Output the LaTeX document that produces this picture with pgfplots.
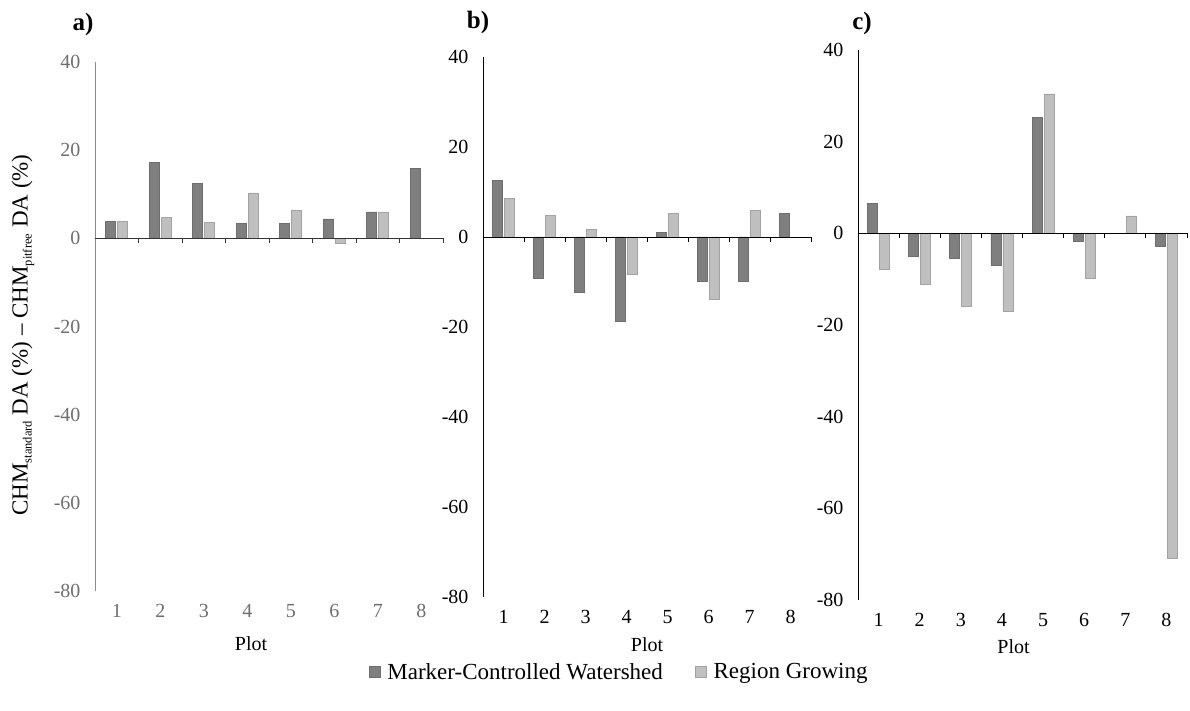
\documentclass[border=0pt]{standalone}
\usepackage{fontspec}
\setmainfont{Liberation Serif}
\usepackage{pgfplots}
\pgfplotsset{compat=1.18}

\definecolor{darkbar}{HTML}{7F7F7F}
\definecolor{darkedge}{HTML}{6E6E6E}
\definecolor{lightbar}{HTML}{BFBFBF}
\definecolor{lightedge}{HTML}{A3A3A3}
\definecolor{softtext}{HTML}{6E6E6E}
\definecolor{softaxis}{HTML}{8C8C8C}

\pgfplotsset{
  panel/.style={
    scale only axis, clip=false,
    xmin=0.5, xmax=8.5, ymin=-80, ymax=40,
    axis lines*=left,
    x axis line style={draw=none},
    xtick={1,2,3,4,5,6,7,8},
    xticklabels={1,2,3,4,5,6,7,8},
    ytick={-80,-60,-40,-20,0,20,40},
    yticklabels={-80,-60,-40,-20,0,20,40},
    tick style={draw=none}, major tick length=0pt,
    ticklabel style={font=\fontsize{20}{24}\selectfont},
    yticklabel style={xshift=-11pt},
    xticklabel style={yshift=-10pt},
    xlabel={Plot},
    xlabel style={font=\fontsize{20}{24}\selectfont,
      at={(axis description cs:0.5,0)}, anchor=center},
  },
  mcw/.style={ybar, bar width=10pt, bar shift=-6pt,
    fill=darkbar, draw=darkedge, line width=0.7pt,
    legend image code/.code={\draw[fill=darkbar, draw=darkedge, line width=0.7pt] (0pt,-5.5pt) rectangle (11pt,5.5pt);}},
  rg/.style={ybar, bar width=10pt, bar shift=6pt,
    fill=lightbar, draw=lightedge, line width=0.7pt,
    legend image code/.code={\draw[fill=lightbar, draw=lightedge, line width=0.7pt] (0pt,-5.5pt) rectangle (11pt,5.5pt);}},
}

% zero line with short ticks between the plots
\newcommand{\zeroline}[1]{%
  \draw[#1, line width=0.8pt] (axis cs:0.5,0) -- (axis cs:8.5,0);
  \pgfplotsinvokeforeach{1.5,2.5,3.5,4.5,5.5,6.5,7.5,8.5}{%
    \draw[#1, line width=0.8pt] (axis cs:##1,0) -- ++(0pt,-5pt);}%
}

\begin{document}
\begin{tikzpicture}
\useasboundingbox (0pt,0pt) rectangle (1190pt,711pt);

% ---- a) ----
\begin{axis}[panel, at={(95pt,120pt)}, anchor=south west,
  width=348pt, height=529pt,
  y axis line style={draw=softaxis, line width=0.8pt},
  ticklabel style={text=softtext},
  xlabel style={yshift=-53pt, xshift=-18pt}]
\addplot[mcw] coordinates {(1,3.9) (2,17.3) (3,12.5) (4,3.3) (5,3.3) (6,4.4) (7,6.0) (8,15.9)};
\addplot[rg] coordinates {(1,3.9) (2,4.8) (3,3.7) (4,10.3) (5,6.3) (6,-1.2) (7,6.0)};
\zeroline{black!80}
\end{axis}

% ---- b) ----
\begin{axis}[panel, at={(483pt,114pt)}, anchor=south west,
  width=328pt, height=540pt,
  y axis line style={draw=black, line width=0.8pt},
  xlabel style={yshift=-48pt},
  legend columns=2,
  legend style={at={(0.415,-0.139)}, anchor=center, draw=none, fill=none,
    font=\fontsize{23}{27}\selectfont,
    /tikz/every odd column/.append style={column sep=5pt},
    /tikz/every even column/.append style={column sep=30pt}},
  legend cell align=left]
\addplot[mcw] coordinates {(1,12.5) (2,-9.3) (3,-12.3) (4,-18.7) (5,1.0) (6,-9.8) (7,-9.8) (8,5.3)};
\addlegendentry{Marker-Controlled Watershed}
\addplot[rg] coordinates {(1,8.6) (2,4.7) (3,1.7) (4,-8.4) (5,5.2) (6,-13.9) (7,5.9)};
\addlegendentry{Region Growing}
\zeroline{black}
\end{axis}

% ---- c) ----
\begin{axis}[panel, at={(858pt,111pt)}, anchor=south west,
  width=329pt, height=550pt,
  y axis line style={draw=black, line width=0.8pt},
  xlabel style={yshift=-47pt, xshift=-9pt}]
\addplot[mcw] coordinates {(1,6.6) (2,-5.0) (3,-5.5) (4,-6.9) (5,25.3) (6,-1.7) (8,-2.8)};
\addplot[rg] coordinates {(1,-7.9) (2,-11.1) (3,-16.0) (4,-17.1) (5,30.4) (6,-9.9) (7,3.8) (8,-71.0)};
\zeroline{black}
\end{axis}

% panel letters
\node[font=\bfseries\fontsize{25}{29}\selectfont] at (83pt,686pt) {a)};
\node[font=\bfseries\fontsize{25}{29}\selectfont] at (478pt,688pt) {b)};
\node[font=\bfseries\fontsize{25}{29}\selectfont] at (862pt,687pt) {c)};

% shared y label
\node[rotate=90, font=\fontsize{23}{27}\selectfont] at (23pt,376pt)
  {CHM\raisebox{-4pt}{\fontsize{12.5}{15}\selectfont standard} DA (\%) -- CHM\raisebox{-4pt}{\fontsize{12.5}{15}\selectfont pitfree} DA (\%)};
\end{tikzpicture}
\end{document}
